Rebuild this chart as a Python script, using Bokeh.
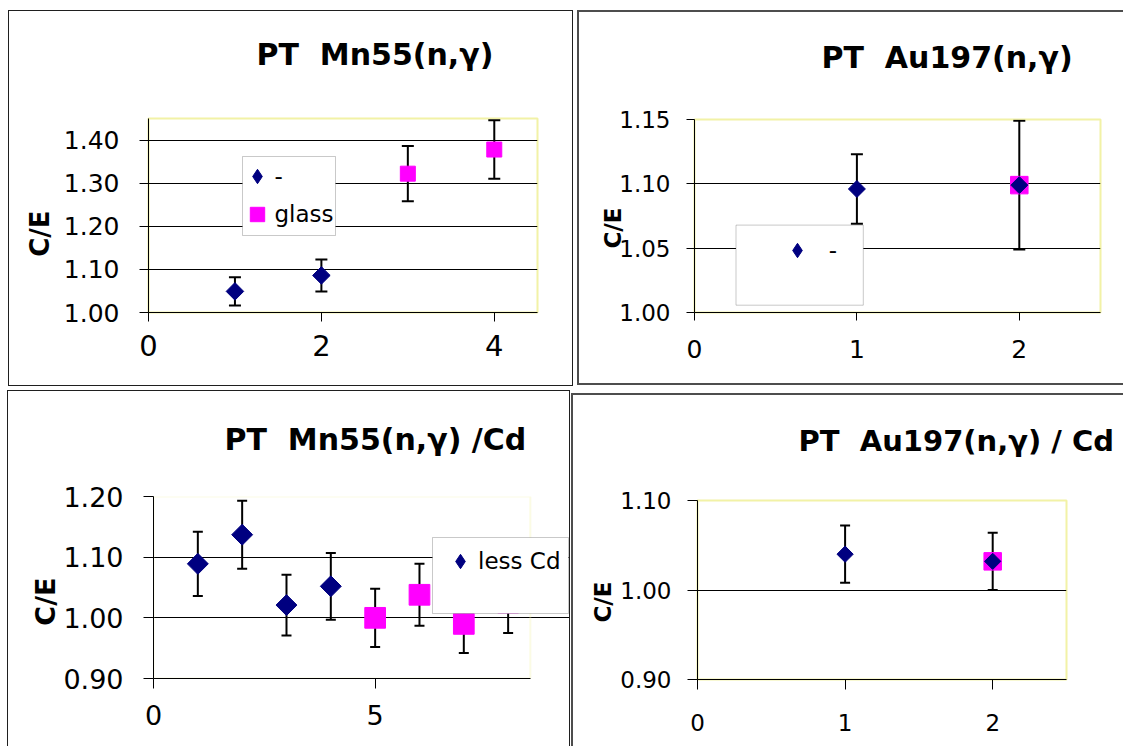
import math

from bokeh.embed import file_html
from bokeh.layouts import column, row
from bokeh.models import (BoxAnnotation, ColumnDataSource, FixedTicker, Legend, LegendItem,
                          NumeralTickFormatter, Range1d, TeeHead, Title, Whisker)
from bokeh.plotting import figure
from bokeh.resources import INLINE

FONT = "DejaVu Sans"
NAVY = "#000080"
MAGENTA = "#ff00ff"

# ---------------- data ----------------
# PT Mn55(n,g)
mn_bare_x = [1, 2]
mn_bare_ce = [1.049, 1.086]
mn_bare_err = [0.033, 0.037]
mn_glass_x = [3, 4]
mn_glass_ce = [1.322, 1.378]
mn_glass_err = [0.064, 0.068]
mn_xticks = [0, 2, 4]
mn_yticks = [1.00, 1.10, 1.20, 1.30, 1.40]

# PT Au197(n,g)
au_bare_x = [1, 2]
au_bare_ce = [1.096, 1.099]
au_bare_err = [0.027, 0.050]
au_glass_x = [2]
au_glass_ce = [1.099]
au_xticks = [0, 1, 2]
au_yticks = [1.00, 1.05, 1.10, 1.15]

# PT Mn55(n,g) /Cd
mncd_less_x = [1, 2, 3, 4]
mncd_less_ce = [1.089, 1.137, 1.021, 1.052]
mncd_less_err = [0.053, 0.056, 0.050, 0.055]
mncd_glass_x = [5, 6, 7, 8]
mncd_glass_ce = [1.000, 1.038, 0.990, 1.025]
mncd_glass_err = [0.048, 0.051, 0.048, 0.050]
mncd_xticks = [0, 5]
mncd_yticks = [0.90, 1.00, 1.10, 1.20]

# PT Au197(n,g) / Cd
aucd_bare_x = [1, 2]
aucd_bare_ce = [1.040, 1.032]
aucd_bare_err = [0.032, 0.032]
aucd_glass_x = [2]
aucd_glass_ce = [1.032]
aucd_xticks = [0, 1, 2]
aucd_yticks = [0.90, 1.00, 1.10]

LEG_GLYPH = 36
NBSP = "\u00a0"


def make_panel(g, title, x_range, y_range, xticks, yticks):
    """One chart object. Geometry in g is given in page pixels; the canvas starts at g['origin']."""
    ox, oy = g["origin"]
    w, h = g["size"]
    fl, fr, ft, fb = (g["frame"][0] - ox, g["frame"][1] - ox, g["frame"][2] - oy, g["frame"][3] - oy)
    p = figure(width=w, height=h, title=None,
               x_range=Range1d(*x_range), y_range=Range1d(*y_range),
               output_backend="svg", toolbar_location=None, tools="",
               min_border_left=fl, min_border_right=w - fr,
               min_border_top=ft, min_border_bottom=h - fb,
               margin=g["margin"], styles=g["css"])
    p.background_fill_color = "white"
    p.border_fill_color = "white"
    p.outline_line_color = "#f2f2a6"
    p.outline_line_width = 2

    # empty band between the plot area and the heading
    p.add_layout(Title(text=" ", text_font_size="1px", standoff=g["title_gap"]), "above")
    p.add_layout(Title(text=title, align="left", vertical_align="bottom",
                       offset=g["title_left"] - g["frame"][0], standoff=0,
                       text_font=FONT, text_font_style="bold", text_font_size=g["title_font"],
                       text_color="black"), "above")

    yax = p.yaxis[0]
    yax.ticker = FixedTicker(ticks=yticks)
    yax.formatter = NumeralTickFormatter(format="0.00")
    yax.major_label_text_font = FONT
    yax.major_label_text_font_size = g["ytick_font"]
    yax.major_label_text_color = "black"
    yax.major_tick_out = g["ytick_out"]
    yax.major_tick_in = 0
    yax.minor_tick_out = 0
    yax.minor_tick_in = 0
    yax.major_label_standoff = g["ytick_standoff"]
    yax.axis_line_color = "black"
    yax.major_tick_line_color = "black"
    # trailing no-break spaces push the visible "C/E" down from the frame centre
    yax.axis_label = "C/E" + NBSP * g["ylabel_pad"]
    yax.axis_label_text_font = FONT
    yax.axis_label_text_font_style = "bold"
    yax.axis_label_text_font_size = g["ylabel_font"]
    yax.axis_label_text_color = "black"
    yax.axis_label_standoff = g["ylabel_standoff"]

    xax = p.xaxis[0]
    xax.ticker = FixedTicker(ticks=xticks)
    xax.formatter = NumeralTickFormatter(format="0")
    xax.major_label_text_font = FONT
    xax.major_label_text_font_size = g["xtick_font"]
    xax.major_label_text_color = "black"
    xax.major_tick_out = g["xtick_out"]
    xax.major_tick_in = 0
    xax.minor_tick_out = 0
    xax.minor_tick_in = 0
    xax.major_label_standoff = g["xtick_standoff"]
    xax.axis_line_color = "black"
    xax.major_tick_line_color = "black"

    p.xgrid.visible = False
    p.ygrid.ticker = FixedTicker(ticks=[v for v in yticks if v < y_range[1] - 1e-9])
    p.ygrid.grid_line_color = "black"
    p.ygrid.grid_line_width = 1
    return p


def add_legend(p, g, items, box, glyph_c, row_gap, standoff):
    """Legend frame drawn as a white box; entries placed inside it."""
    ox, oy = g["origin"]
    fl = g["frame"][0] - ox
    fb = g["frame"][3] - oy
    x0, y0, x1, y1 = (box[0] - ox, box[1] - oy, box[2] - ox, box[3] - oy)
    p.add_layout(BoxAnnotation(left=x0 - fl, right=x1 - fl, top=fb - y0, bottom=fb - y1,
                               left_units="screen", right_units="screen",
                               top_units="screen", bottom_units="screen",
                               fill_color="white", fill_alpha=1.0,
                               line_color="#4d4d4d", line_width=1))
    n = len(items)
    spacing = row_gap - LEG_GLYPH
    height = n * LEG_GLYPH + (n - 1) * spacing
    cx, cy = glyph_c[0] - ox, glyph_c[1] - oy
    left = cx - LEG_GLYPH / 2
    bottom = cy - LEG_GLYPH / 2 + height
    leg = Legend(items=[LegendItem(label=lab, renderers=[r]) for lab, r in items],
                 location=(left - fl, fb - bottom),
                 orientation="vertical", padding=0, spacing=spacing, margin=0,
                 glyph_width=LEG_GLYPH, glyph_height=LEG_GLYPH, label_height=LEG_GLYPH,
                 label_standoff=standoff,
                 label_text_font=FONT, label_text_font_size="23px", label_text_color="black",
                 border_line_alpha=0, background_fill_alpha=0)
    p.add_layout(leg)


def add_errors(p, x, ce, err, cap):
    src = ColumnDataSource(dict(x=x, lower=[c - e for c, e in zip(ce, err)],
                                upper=[c + e for c, e in zip(ce, err)]))
    p.add_layout(Whisker(source=src, base="x", lower="lower", upper="upper", dimension="height",
                         line_color="black", line_width=2,
                         upper_head=TeeHead(size=cap, line_color="black", line_width=2),
                         lower_head=TeeHead(size=cap, line_color="black", line_width=2)))


def diamonds(p, x, y, size):
    # small diamond-marker copy underneath: it supplies the legend swatch
    key = p.scatter(x, y, marker="diamond", size=4, fill_color=NAVY, line_color=NAVY)
    p.scatter(x, y, marker="square", angle=math.pi / 4, size=size,
              fill_color=NAVY, line_color=NAVY)
    return key


def squares(p, x, y, size):
    return p.scatter(x, y, marker="square", size=size, fill_color=MAGENTA, line_color=MAGENTA)


# ---------------- PT Mn55(n,g) ----------------
g1 = dict(origin=(9, 11), size=(563, 374), frame=(148, 535, 118, 310),
          margin=(10, 0, 0, 8), css={"border": "1px solid #1f1f1f", "box-sizing": "content-box"},
          title_left=256, title_gap=44, title_font="30px",
          ylabel_font="26px", ylabel_standoff=6, ylabel_pad=4,
          ytick_font="25px", ytick_out=9, ytick_standoff=20,
          xtick_font="29px", xtick_out=9, xtick_standoff=13)
p1 = make_panel(g1, "PT " + NBSP + "Mn55(n,\u03b3)", (0, 4.5), (1.00, 1.45), mn_xticks, mn_yticks)
add_errors(p1, mn_bare_x, mn_bare_ce, mn_bare_err, 12)
add_errors(p1, mn_glass_x, mn_glass_ce, mn_glass_err, 12)
k1 = diamonds(p1, mn_bare_x, mn_bare_ce, 12.4)
r1b = squares(p1, mn_glass_x, mn_glass_ce, 15)
add_legend(p1, g1, [("-", k1), ("glass", r1b)], (242, 154, 335, 233), (256.5, 174), 38, 0)

# ---------------- PT Au197(n,g) ----------------
g2 = dict(origin=(579, 12), size=(544, 371), frame=(694, 1098, 117, 312),
          margin=(10, 0, 0, 4),
          css={"border-left": "2px solid #4d4d4d", "border-top": "2px solid #4d4d4d",
               "border-bottom": "2px solid #4d4d4d", "box-sizing": "content-box"},
          title_left=821, title_gap=42, title_font="30px",
          ylabel_font="23px", ylabel_standoff=-10, ylabel_pad=3,
          ytick_font="23px", ytick_out=8, ytick_standoff=16,
          xtick_font="25px", xtick_out=8, xtick_standoff=19)
p2 = make_panel(g2, "PT " + NBSP + "Au197(n,\u03b3)", (0, 2.5), (1.00, 1.15), au_xticks, au_yticks)
add_errors(p2, au_bare_x, au_bare_ce, au_bare_err, 12)
squares(p2, au_glass_x, au_glass_ce, 17.5)
k2 = diamonds(p2, au_bare_x, au_bare_ce, 12)
add_legend(p2, g2, [("-", k2)], (735.5, 224.6, 862.8, 304.7), (796.7, 250), 36, 14)

# ---------------- PT Mn55(n,g) /Cd ----------------
# the frame runs on to the right edge so the legend box can sit past the last point
mncd_data_right_px = 528
g3 = dict(origin=(8, 391), size=(561, 355), frame=(153, 569, 496, 677),
          margin=(4, 0, 0, 7),
          css={"border-left": "1px solid #1f1f1f", "border-top": "1px solid #1f1f1f",
               "border-right": "1px solid #1f1f1f", "box-sizing": "content-box"},
          title_left=224, title_gap=37, title_font="30px",
          ylabel_font="27px", ylabel_standoff=-1, ylabel_pad=3,
          ytick_font="27px", ytick_out=10, ytick_standoff=20,
          xtick_font="27px", xtick_out=10, xtick_standoff=16)
mncd_xmax = 8.5
mncd_xend = mncd_xmax * (g3["frame"][1] - g3["frame"][0]) / (mncd_data_right_px - g3["frame"][0])
p3 = make_panel(g3, "PT " + NBSP + "Mn55(n,\u03b3) /Cd", (0, mncd_xend), (0.90, 1.20),
                mncd_xticks, mncd_yticks)
p3.outline_line_color = None
p3.xaxis[0].bounds = (0, mncd_xmax)
p3.ygrid.bounds = (0, mncd_xmax)
p3.add_layout(BoxAnnotation(left=0, right=mncd_xmax, bottom=0.90, top=1.20, fill_color=None,
                            line_color="#f2f2a6", line_width=2, level="underlay"))
add_errors(p3, mncd_less_x, mncd_less_ce, mncd_less_err, 10)
add_errors(p3, mncd_glass_x, mncd_glass_ce, mncd_glass_err, 10)
k3 = diamonds(p3, mncd_less_x, mncd_less_ce, 14.8)
squares(p3, mncd_glass_x, mncd_glass_ce, 20.7)
add_legend(p3, g3, [("less Cd", k3)], (432, 536, 568, 612), (460, 560.3), 36, 0)

# ---------------- PT Au197(n,g) / Cd ----------------
g4 = dict(origin=(573, 395), size=(550, 351), frame=(697, 1064, 498, 686),
          margin=(7, 0, 0, 1),
          css={"border-left": "2px solid #4d4d4d", "border-top": "2px solid #4d4d4d",
               "box-sizing": "content-box"},
          title_left=798, title_gap=40, title_font="29px",
          ylabel_font="23px", ylabel_standoff=1, ylabel_pad=3,
          ytick_font="23px", ytick_out=10, ytick_standoff=16,
          xtick_font="23px", xtick_out=10, xtick_standoff=24)
p4 = make_panel(g4, "PT " + NBSP + "Au197(n,\u03b3) / Cd", (0, 2.5), (0.90, 1.10),
                aucd_xticks, aucd_yticks)
add_errors(p4, aucd_bare_x, aucd_bare_ce, aucd_bare_err, 10)
squares(p4, aucd_glass_x, aucd_glass_ce, 17.5)
diamonds(p4, aucd_bare_x, aucd_bare_ce, 11.5)

layout = column(row(p1, p2), row(p3, p4))

open("out.html", "w").write(file_html(layout, INLINE))
